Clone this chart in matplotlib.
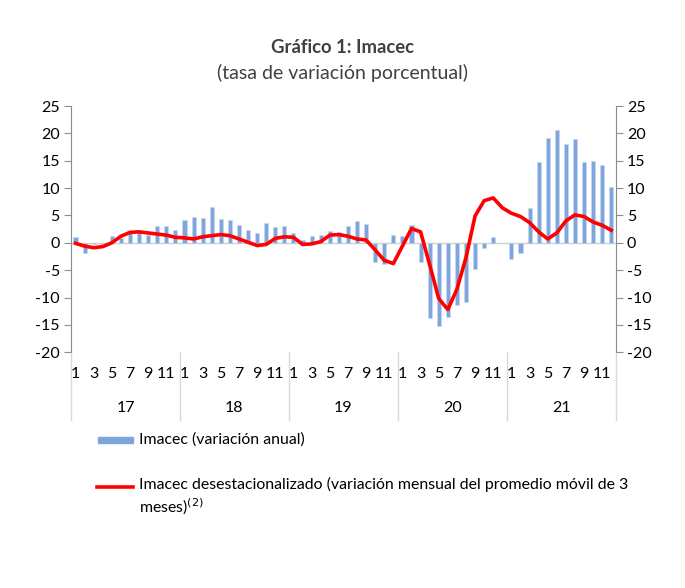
import matplotlib.pyplot as plt
import numpy as np

plt.rcParams['font.family'] = ['Lato', 'DejaVu Sans']
plt.rcParams['axes.unicode_minus'] = False

years = ['17', '18', '19', '20', '21']
month_ticks = [1, 3, 5, 7, 9, 11]

# Imacec, variacion anual (%), ene-2017 .. dic-2021
annual = [
    1.0, -1.9, -0.3, -0.3, 1.2, 0.9, 2.1, 2.1, 1.5, 3.1, 3.0, 2.4,
    4.1, 4.8, 4.6, 6.5, 4.3, 4.2, 3.2, 2.4, 1.8, 3.6, 2.9, 3.0,
    1.7, 0.6, 1.2, 1.5, 2.1, 2.0, 3.0, 3.9, 3.5, -3.5, -3.9, 1.5,
    1.3, 3.3, -3.5, -13.8, -15.2, -13.5, -11.3, -10.9, -4.7, -0.9, 1.0, 0.0,
    -2.9, -1.9, 6.4, 14.8, 19.2, 20.7, 18.1, 19.0, 14.8, 15.0, 14.3, 10.2,
]

# Imacec desestacionalizado, var. mensual prom. movil 3 meses (%)
sa_3m = [
    -0.1, -0.6, -0.9, -0.7, 0.0, 1.2, 1.9, 2.0, 1.8, 1.6, 1.4, 1.0,
    0.9, 0.7, 1.1, 1.3, 1.5, 1.3, 0.7, 0.1, -0.5, -0.3, 0.8, 1.1,
    1.0, -0.3, -0.2, 0.2, 1.4, 1.5, 1.2, 0.7, 0.5, -1.3, -3.2, -3.8,
    -0.6, 2.6, 2.0, -4.0, -10.2, -12.2, -8.5, -2.7, 4.9, 7.7, 8.2, 6.4,
    5.4, 4.8, 3.7, 2.0, 0.7, 1.8, 4.0, 5.1, 4.8, 3.8, 3.2, 2.3,
]

label_bar = 'Imacec (variación anual)'
label_line = 'Imacec desestacionalizado (variación mensual del promedio móvil de 3\nmeses)$^{(2)}$'

n = len(annual)
x = np.arange(n)

fig = plt.figure(figsize=(6.85, 5.88), dpi=100)
ax = fig.add_axes([0.1036, 0.401, 0.7954, 0.4187])

ax.bar(x, annual, width=0.45, color='#7ea6dc', edgecolor='#c6d7ef', linewidth=0.4, zorder=2)
ax.plot(x, sa_3m, color='#ff0000', linewidth=2.6, solid_joinstyle='round', zorder=3)
ax.axhline(0, color='#d0d0d0', linewidth=1.0, zorder=1)

ax.set_xlim(-0.5, n - 0.5)
ax.set_ylim(-20, 25)
ax.set_yticks(range(-20, 26, 5))

gray = '#8c8c8c'
for s in ['top', 'bottom']:
    ax.spines[s].set_visible(False)
for s in ['left', 'right']:
    ax.spines[s].set_color(gray)
ax.tick_params(axis='y', which='both', left=True, right=True, labelleft=True, labelright=True,
               direction='out', length=5, color=gray, labelsize=11.5, labelcolor='black', pad=3)
ax.tick_params(axis='x', bottom=False, labelbottom=False)

# month and year labels below the plot
for yi, yr in enumerate(years):
    for m in month_ticks:
        ax.text(yi * 12 + m - 1, -24.0, str(m), ha='center', va='center', fontsize=11.5)
    ax.text(yi * 12 + 5.5, -30.2, yr, ha='center', va='center', fontsize=11.5)
for b in range(len(years) + 1):
    ax.plot([b * 12 - 0.5] * 2, [-20, -32.3], color='#d9d9d9', linewidth=1.0, clip_on=False)

fig.text(0.5, 0.92, 'Gráfico 1: Imacec', ha='center', va='center', fontsize=13.3,
         fontweight='bold', color='#404040')
fig.text(0.5, 0.876, '(tasa de variación porcentual)', ha='center', va='center', fontsize=14,
         color='#404040')

# legend
fig.patches.append(plt.Rectangle((98 / 685, 1 - 443 / 588), 35 / 685, 6 / 588,
                                 transform=fig.transFigure, color='#7ea6dc'))
fig.text(139 / 685, 1 - 440 / 588, label_bar, ha='left', va='center', fontsize=11.4)
fig.lines.append(plt.Line2D([97 / 685, 133 / 685], [1 - 487 / 588] * 2, transform=fig.transFigure,
                            color='#ff0000', linewidth=2.6))
fig.text(139 / 685, 1 - 497 / 588, label_line, ha='left', va='center', fontsize=11.4,
         linespacing=1.3)

plt.savefig('out.png', dpi=100)
